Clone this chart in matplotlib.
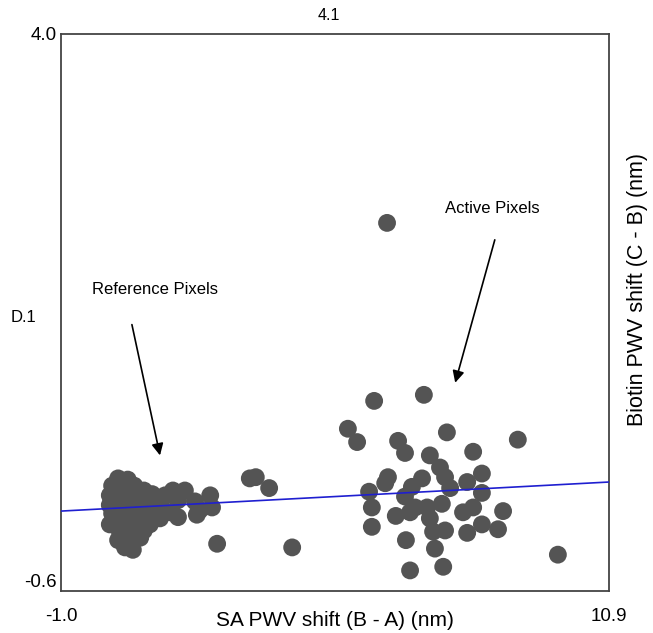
import matplotlib
matplotlib.use("Agg")
import matplotlib.pyplot as plt

plt.rcParams['font.family'] = ['Liberation Sans', 'DejaVu Sans']

# Reference pixels (left cluster)
ref_x = [0.24, 0.45, 0.11, 0.32, 0.59, 0.80, 0.06, 0.28, 0.54, 0.82, 0.98,
         0.06, 0.32, 0.59, 0.85, 1.04, 0.11, 0.37, 0.63, 0.89, 0.19, 0.45,
         0.72, 0.93, 0.28, 0.54, 0.80, 0.24, 0.50, 0.72, 0.39, 0.56, 1.43,
         1.69, 1.26, 1.54, 1.19, 1.37, 1.54, 1.91, 2.02, 1.95, 2.24, 2.28,
         1.15, 0.93, 0.06, 2.39]
ref_y = [0.33, 0.32, 0.27, 0.25, 0.27, 0.23, 0.19, 0.18, 0.18, 0.17, 0.20,
         0.11, 0.10, 0.11, 0.10, 0.12, 0.04, 0.03, 0.04, 0.04, -0.04, -0.05,
         -0.03, -0.01, -0.11, -0.12, -0.10, -0.18, -0.19, -0.16, -0.24, -0.26, 0.23,
         0.23, 0.19, 0.15, 0.09, 0.05, 0.01, 0.14, 0.07, 0.03, 0.19, 0.09,
         0.00, -0.05, -0.05, -0.21]

# Intermediate pixels
mid_x = [3.10, 3.23, 3.52, 4.02]
mid_y = [0.33, 0.34, 0.25, -0.24]

# Active pixels (right cluster)
act_x = [5.80, 6.88, 5.23, 5.43, 6.32, 6.47, 7.38, 7.95, 8.92, 7.01, 7.23,
         7.34, 8.14, 7.82, 6.10, 6.04, 6.84, 6.62, 7.45, 8.14, 5.69, 5.75,
         6.47, 7.27, 6.95, 6.69, 6.27, 6.58, 7.73, 7.95, 8.60, 7.01, 5.75,
         7.34, 7.08, 7.82, 8.14, 8.49, 6.49, 7.12, 6.58, 7.30, 9.79, 6.08]
act_y = [0.97, 1.02, 0.74, 0.63, 0.64, 0.54, 0.71, 0.55, 0.65, 0.52, 0.42,
         0.34, 0.37, 0.30, 0.34, 0.29, 0.33, 0.26, 0.25, 0.21, 0.22, 0.09,
         0.18, 0.12, 0.09, 0.09, 0.02, 0.05, 0.05, 0.09, 0.06, 0.00, -0.07,
         -0.10, -0.11, -0.12, -0.05, -0.09, -0.18, -0.25, -0.43, -0.40, -0.30, 2.44]

# Fit line endpoints
fit_x = [-1.0, 10.9]
fit_y = [0.06, 0.30]

x_ticks = [-1.0, 10.9]
x_ticklabels = ['-1.0', '10.9']
y_ticks = [-0.6, 4.0]
y_ticklabels = ['-0.6', '4.0']

W, H = 653, 633
fig = plt.figure(figsize=(W / 100, H / 100), dpi=100)
ax = fig.add_axes([61 / W, 1 - 591 / H, (609 - 61) / W, (591 - 34) / H])

dot_color = '#545454'
ms = 165
ax.scatter(ref_x + mid_x + act_x, ref_y + mid_y + act_y, s=ms, c=dot_color,
           edgecolors='none', zorder=2)
ax.plot(fit_x, fit_y, color='#1f1fd0', lw=1.2, zorder=3)

ax.set_xlim(-1.0, 10.9)
ax.set_ylim(-0.6, 4.0)
ax.set_xticks(x_ticks)
ax.set_xticklabels(x_ticklabels)
ax.set_yticks(y_ticks)
ax.set_yticklabels(y_ticklabels)
ax.tick_params(length=0, labelsize=13.5)
ax.tick_params(axis='x', pad=12)
ax.tick_params(axis='y', pad=3)
ax.get_yticklabels()[0].set_va('bottom')
for sp in ax.spines.values():
    sp.set_color('#444444')
    sp.set_linewidth(1.3)

fig.text(335 / W, 1 - 620 / H, 'SA PWV shift (B - A) (nm)', fontsize=15,
         ha='center', va='center')
fig.text(637 / W, 1 - 290 / H, 'Biotin PWV shift (C - B) (nm)', rotation=90,
         fontsize=15.5, ha='center', va='center')
fig.text(329 / W, 1 - 16 / H, '4.1', fontsize=11.5, ha='center', va='center')
fig.text(23 / W, 1 - 318 / H, 'D.1', fontsize=12, ha='center', va='center')

ax.text(1.04, 1.89, 'Reference Pixels', fontsize=12, ha='center', va='center')
ax.text(8.36, 2.56, 'Active Pixels', fontsize=12, ha='center', va='center')
arrow = dict(arrowstyle='-|>,head_length=0.7,head_width=0.35', color='black',
             lw=1.2, shrinkA=0, shrinkB=0)
ax.annotate('', xy=(1.15, 0.52), xytext=(0.54, 1.60), arrowprops=arrow)
ax.annotate('', xy=(7.56, 1.12), xytext=(8.42, 2.30), arrowprops=arrow)

fig.savefig('out.png', dpi=100)
